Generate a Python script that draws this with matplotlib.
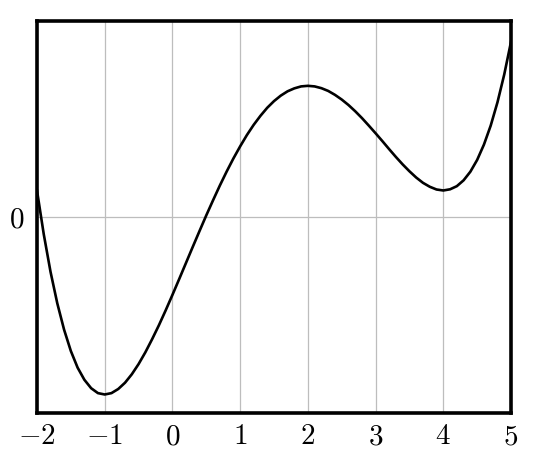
import numpy as np
import matplotlib.pyplot as plt

plt.rcParams['mathtext.fontset'] = 'cm'

# values, step 0.1
xs = np.round(np.arange(-2.0, 5.01, 0.1), 1)
ys = [1.33, -0.90, -2.82, -4.43, -5.77, -6.86, -7.71, -8.33, -8.76, -9.01,
      -9.08, -9.01, -8.80, -8.48, -8.05, -7.53, -6.93, -6.26, -5.55, -4.79,
      -4.00, -3.19, -2.37, -1.55, -0.74, 0.06, 0.83, 1.58, 2.29, 2.96,
      3.58, 4.16, 4.68, 5.14, 5.55, 5.89, 6.17, 6.39, 6.54, 6.64,
      6.67, 6.64, 6.55, 6.41, 6.21, 5.97, 5.69, 5.37, 5.02, 4.64,
      4.25, 3.85, 3.44, 3.04, 2.66, 2.31, 1.99, 1.72, 1.52, 1.38,
      1.33, 1.39, 1.55, 1.85, 2.29, 2.89, 3.67, 4.64, 5.83, 7.25,
      8.92]

xticks = [-2, -1, 0, 1, 2, 3, 4, 5]
yticks = [0]

fig = plt.figure(figsize=(5.43, 4.5), dpi=100)
ax = fig.add_axes([0.0681, 0.0833, 0.873, 0.871])

ax.plot(xs, ys, color='black', lw=1.9, zorder=3)

ax.set_xlim(-2, 5)
ax.set_ylim(-10, 10)
ax.set_xticks(xticks)
ax.set_xticklabels(['$%d$' % t for t in xticks])
ax.set_yticks(yticks)
ax.set_yticklabels(['$%d$' % t for t in yticks])
ax.tick_params(length=0, labelsize=21, pad=7)
ax.tick_params(axis='y', pad=9)
ax.grid(True, color='#bdbdbd', lw=0.9)
for s in ax.spines.values():
    s.set_linewidth(2.6)
    s.set_zorder(4)

fig.savefig('out.png', dpi=100)
